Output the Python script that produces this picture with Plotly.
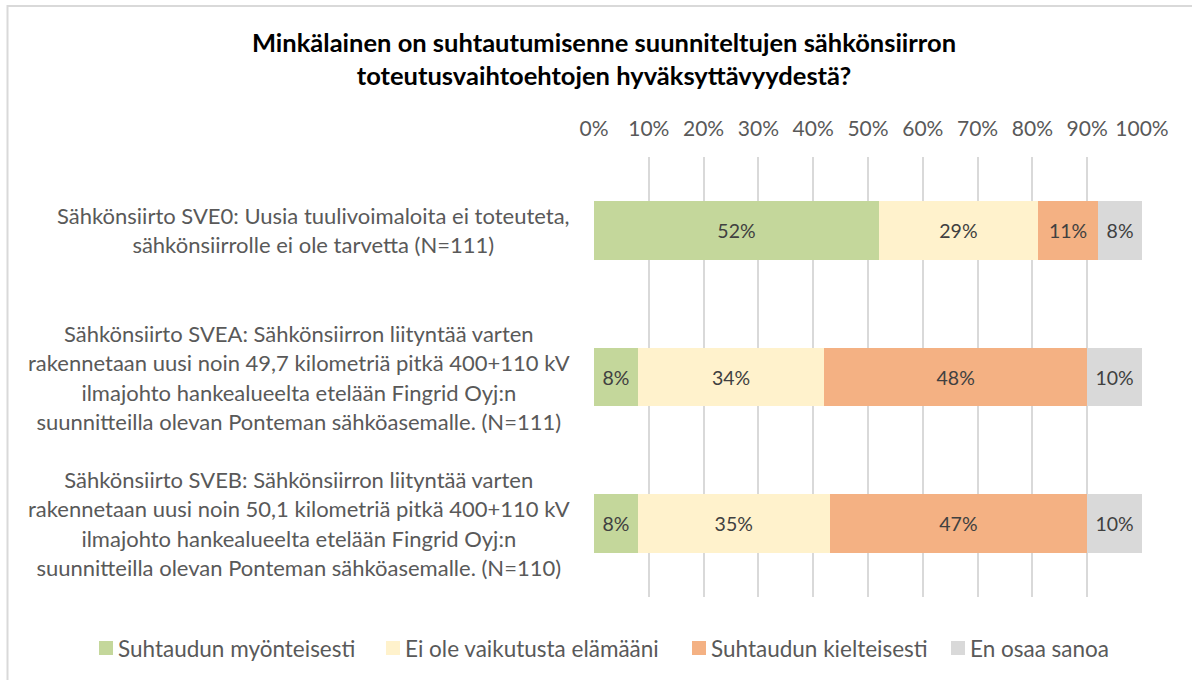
import plotly.graph_objects as go

# Survey categories (top to bottom) and their wrapped label lines
categories = ["SVE0", "SVEA", "SVEB"]
category_lines = [
    ["Sähkönsiirto SVE0: Uusia tuulivoimaloita ei toteuteta,",
     "sähkönsiirrolle ei ole tarvetta (N=111)"],
    ["Sähkönsiirto SVEA: Sähkönsiirron liityntää varten",
     "rakennetaan uusi noin 49,7 kilometriä pitkä 400+110 kV",
     "ilmajohto hankealueelta etelään Fingrid Oyj:n",
     "suunnitteilla olevan Ponteman sähköasemalle. (N=111)"],
    ["Sähkönsiirto SVEB: Sähkönsiirron liityntää varten",
     "rakennetaan uusi noin 50,1 kilometriä pitkä 400+110 kV",
     "ilmajohto hankealueelta etelään Fingrid Oyj:n",
     "suunnitteilla olevan Ponteman sähköasemalle. (N=110)"],
]

# Answer options and shares (%) per category
series_names = ["Suhtaudun myönteisesti", "Ei ole vaikutusta elämääni",
                "Suhtaudun kielteisesti", "En osaa sanoa"]
positive = [52, 8, 8]
no_effect = [29, 34, 35]
negative = [11, 48, 47]
dont_know = [8, 10, 10]

tick_values = [0, 10, 20, 30, 40, 50, 60, 70, 80, 90, 100]
tick_labels = ["0%", "10%", "20%", "30%", "40%", "50%", "60%", "70%", "80%", "90%", "100%"]

colors = ["#c4d79b", "#fff2cc", "#f4b183", "#d9d9d9"]
FONT = "Lato"
TEXT_GREY = "#595959"

W, H = 1192, 680
L, R, T, B = 594, 50, 157, 83
PW, PH = W - L - R, H - T - B


def px_x(px):
    """Page pixel column -> paper x."""
    return (px - L) / PW


def px_y(py):
    """Page pixel row -> paper y."""
    return (H - B - py) / PH


fig = go.Figure()
for name, vals, col in zip(series_names, [positive, no_effect, negative, dont_know], colors):
    fig.add_trace(go.Bar(
        name=name, y=categories, x=vals, orientation="h",
        marker=dict(color=col, line=dict(width=0)),
        text=[f"{v}%" for v in vals], textposition="inside",
        insidetextanchor="middle", textangle=0,
        textfont=dict(family=FONT, size=19.5, color="#404040"),
        width=0.4, showlegend=False,
    ))

# Category labels: centred multi-line blocks right-aligned next to the plot
for cat, lines in zip(categories, category_lines):
    body = "<br>".join(f"<span style='font-size:22px'>{ln}</span>" for ln in lines)
    fig.add_annotation(
        x=0, xref="paper", y=cat, yref="y", text=body,
        xanchor="right", yanchor="middle", align="center",
        xshift=-22, showarrow=False,
        font=dict(family=FONT, size=22.5, color=TEXT_GREY),
    )

# Legend drawn as swatches + labels in one row below the plot
legend_swatch_left = [99, 386, 692, 951]
legend_row_y = 648
for name, col, sx in zip(series_names, colors, legend_swatch_left):
    fig.add_shape(type="rect", xref="paper", yref="paper",
                  x0=px_x(sx), x1=px_x(sx + 14),
                  y0=px_y(legend_row_y + 7), y1=px_y(legend_row_y - 7),
                  line=dict(width=0), fillcolor=col)
    fig.add_annotation(
        x=px_x(sx + 17), xref="paper", y=px_y(legend_row_y), yref="paper",
        text=name, xanchor="left", yanchor="middle", showarrow=False,
        font=dict(family=FONT, size=22.5, color=TEXT_GREY),
    )

# Outer chart frame
fig.add_shape(type="rect", xref="paper", yref="paper",
              x0=px_x(7.5), x1=px_x(W + 20), y0=px_y(H + 20), y1=px_y(6),
              line=dict(color="#d9d9d9", width=2), fillcolor="rgba(0,0,0,0)", layer="below")

fig.update_layout(
    width=W, height=H,
    margin=dict(l=L, r=R, t=T, b=B),
    paper_bgcolor="white", plot_bgcolor="white",
    barmode="stack", bargap=0.6, showlegend=False,
    title=dict(
        text="<b>Minkälainen on suhtautumisenne suunniteltujen sähkönsiirron<br>"
             "toteutusvaihtoehtojen hyväksyttävyydestä?</b>",
        x=604 / W, xanchor="center", y=1 - 52 / H, yanchor="middle",
        font=dict(family=FONT, size=25.5, color="#000000"),
    ),
    xaxis=dict(
        side="top", range=[0, 100], tickvals=tick_values, ticktext=tick_labels,
        showgrid=True, gridcolor="#d9d9d9", gridwidth=1.5,
        zeroline=False, showline=False, ticks="",
        ticklabelstandoff=16,
        tickfont=dict(family=FONT, size=21, color=TEXT_GREY),
    ),
    yaxis=dict(
        categoryorder="array", categoryarray=categories, autorange="reversed",
        showticklabels=False, showgrid=False, zeroline=False, showline=False,
    ),
)

fig.write_html("out.html")
